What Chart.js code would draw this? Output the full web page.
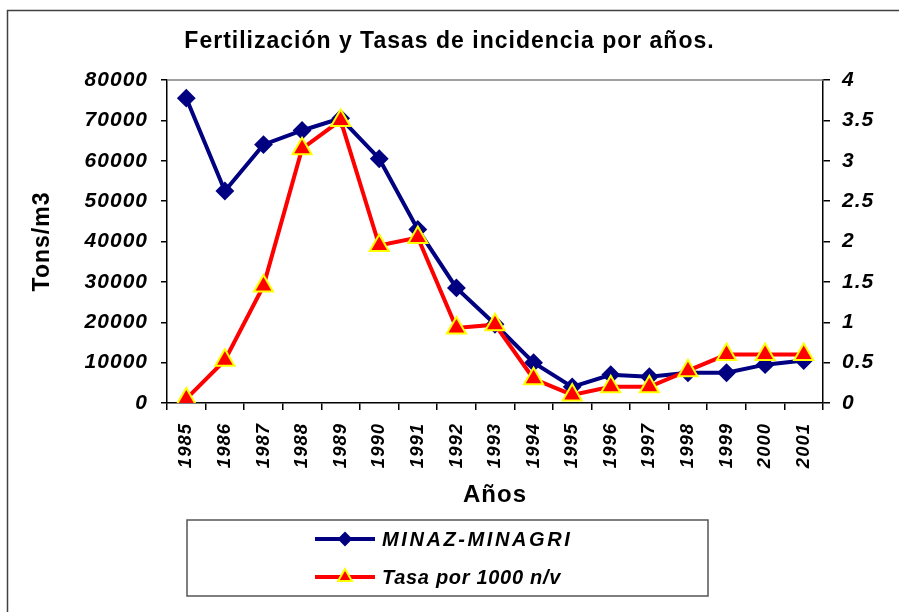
<!DOCTYPE html>
<html>
<head>
<meta charset="utf-8">
<script src="https://cdn.jsdelivr.net/npm/chart.js@4/dist/chart.umd.min.js"></script>
<style>
html,body{margin:0;padding:0;background:#fff;}
canvas{display:block;}
</style>
</head>
<body>
<canvas id="c" width="899" height="612"></canvas>
<script>
// ---- data ----
const years = ['1985','1986','1987','1988','1989','1990','1991','1992','1993','1994','1995','1996','1997','1998','1999','2000','2001'];
const minazMinagri = [75500, 52500, 64000, 67500, 70500, 60500, 43000, 28500, 19500, 10000, 4000, 7000, 6500, 7500, 7500, 9500, 10500];
const tasaPor1000 = [0.05, 0.53, 1.45, 3.15, 3.5, 1.95, 2.05, 0.93, 0.97, 0.3, 0.1, 0.2, 0.2, 0.4, 0.6, 0.6, 0.6];
const leftTicks = [0, 10000, 20000, 30000, 40000, 50000, 60000, 70000, 80000];
const rightTicks = [0, 0.5, 1, 1.5, 2, 2.5, 3, 3.5, 4];
const seriesNames = ['MINAZ-MINAGRI', 'Tasa por 1000 n/v'];
const chartTitle = 'Fertilización y Tasas de incidencia por años.';
const yTitle = 'Tons/m3';
const xTitle = 'Años';

// ---- styles ----
const FONT = "'Liberation Sans', Arial, sans-serif";
const BLUE = '#000080';
const RED = '#FF0000';
const YELLOW = '#FFFF00';
Chart.defaults.color = '#000';
Chart.defaults.font.family = FONT;

const spacingPlugin = {
  id: 'spacing',
  beforeUpdate(c) { c.ctx.letterSpacing = '1px'; },
  beforeDraw(c) { c.ctx.letterSpacing = '1px'; }
};

const framePlugin = {
  id: 'frame',
  beforeDraw(c) {
    const ctx = c.ctx;
    ctx.save();
    ctx.fillStyle = '#fff';
    ctx.fillRect(0, 0, c.width, c.height);
    ctx.strokeStyle = '#404040';
    ctx.lineWidth = 1.5;
    ctx.strokeRect(7.5, 10.5, 900, 640);
    ctx.restore();
  },
  beforeDatasetsDraw(c) {
    const ctx = c.ctx, a = c.chartArea;
    ctx.save();
    ctx.strokeStyle = '#808080';
    ctx.lineWidth = 1.5;
    ctx.beginPath();
    ctx.moveTo(a.left, a.top);
    ctx.lineTo(a.right, a.top);
    ctx.stroke();
    ctx.restore();
  }
};

function drawMarker(ctx, ds, x, y, radius) {
  ctx.save();
  ctx.fillStyle = ds.pointBackgroundColor;
  ctx.strokeStyle = ds.pointBorderColor;
  ctx.lineWidth = ds.pointBorderWidth;
  if (Chart.helpers && Chart.helpers.drawPoint) {
    Chart.helpers.drawPoint(ctx, {pointStyle: ds.pointStyle, radius: radius, borderWidth: ds.pointBorderWidth, rotation: 0}, x, y);
  } else {
    ctx.beginPath();
    if (ds.pointStyle === 'triangle') {
      ctx.moveTo(x, y - radius);
      ctx.lineTo(x + radius * 0.866, y + radius / 2);
      ctx.lineTo(x - radius * 0.866, y + radius / 2);
    } else {
      ctx.moveTo(x - radius, y); ctx.lineTo(x, y - radius);
      ctx.lineTo(x + radius, y); ctx.lineTo(x, y + radius);
    }
    ctx.closePath();
    ctx.fill(); ctx.stroke();
  }
  ctx.restore();
}

const boxLegendPlugin = {
  id: 'boxLegend',
  afterDraw(c) {
    const ctx = c.ctx;
    ctx.save();
    ctx.strokeStyle = '#555';
    ctx.lineWidth = 1.5;
    ctx.strokeRect(187, 520, 521, 76);
    const rows = [539, 577];
    const spacing = ['2.6px', '0.7px'];
    const order = [1, 0]; // dataset indices: blue first, red second
    order.forEach((di, r) => {
      const ds = c.data.datasets[di];
      const y = rows[r];
      ctx.strokeStyle = ds.borderColor;
      ctx.lineWidth = 4;
      ctx.beginPath();
      ctx.moveTo(315, y);
      ctx.lineTo(375, y);
      ctx.stroke();
      drawMarker(ctx, ds, 345, y, ds.pointStyle === 'triangle' ? 8 : 6);
      ctx.letterSpacing = spacing[r];
      ctx.fillStyle = '#000';
      ctx.font = 'italic bold 20px ' + FONT;
      ctx.textAlign = 'left';
      ctx.textBaseline = 'middle';
      ctx.fillText(ds.label, 382, y + 1);
    });
    ctx.restore();
  }
};

const chart = new Chart(document.getElementById('c'), {
  type: 'line',
  data: {
    labels: years,
    datasets: [
      {
        label: seriesNames[1],
        data: tasaPor1000,
        yAxisID: 'y2',
        borderColor: RED,
        borderWidth: 4,
        pointStyle: 'triangle',
        pointRadius: 11,
        pointBackgroundColor: RED,
        pointBorderColor: YELLOW,
        pointBorderWidth: 2,
        tension: 0,
        order: 1
      },
      {
        label: seriesNames[0],
        data: minazMinagri,
        yAxisID: 'y',
        borderColor: BLUE,
        borderWidth: 4,
        pointStyle: 'rectRot',
        pointRadius: 8,
        pointBackgroundColor: BLUE,
        pointBorderColor: BLUE,
        pointBorderWidth: 2,
        tension: 0,
        order: 2
      }
    ]
  },
  options: {
    responsive: false,
    animation: false,
    events: [],
    layout: { padding: 0 },
    plugins: {
      legend: { display: false },
      tooltip: { enabled: false },
      title: {
        display: true,
        text: chartTitle,
        color: '#000',
        font: { family: FONT, size: 23, weight: 'bold' },
        padding: { top: 28, bottom: 24.4 }
      }
    },
    scales: {
      x: {
        type: 'category',
        offset: true,
        grid: { offset: true, drawOnChartArea: false, drawTicks: true, tickLength: 7, color: '#000', lineWidth: 1.5 },
        border: { display: true, color: '#000', width: 1.5 },
        ticks: {
          autoSkip: false, minRotation: 90, maxRotation: 90, padding: 13,
          color: '#000',
          font: { family: FONT, size: 18.5, weight: 'bold', style: 'italic' }
        },
        title: {
          display: true, text: xTitle, color: '#000',
          font: { family: FONT, size: 24, weight: 'bold' },
          padding: { top: 0, bottom: 102.6 }
        },
        afterFit(s) { s.height = 209; }
      },
      y: {
        position: 'left',
        min: 0, max: 80000,
        afterBuildTicks(s) { s.ticks = leftTicks.map(v => ({value: v})); },
        grid: { drawOnChartArea: false, drawTicks: true, tickLength: 6, color: '#000', lineWidth: 1.5 },
        border: { display: true, color: '#000', width: 1.5 },
        ticks: {
          padding: 13, color: '#000',
          font: { family: FONT, size: 21, weight: 'bold', style: 'italic' },
          callback: v => String(v)
        },
        title: {
          display: true, text: yTitle, color: '#000',
          font: { family: FONT, size: 23, weight: 'bold' },
          padding: { top: 29, bottom: 0 }
        },
        afterFit(s) { s.width = 167; }
      },
      y2: {
        position: 'right',
        min: 0, max: 4,
        afterBuildTicks(s) { s.ticks = rightTicks.map(v => ({value: v})); },
        grid: { drawOnChartArea: false, drawTicks: true, tickLength: 7, color: '#000', lineWidth: 1.5 },
        border: { display: true, color: '#000', width: 1.5 },
        ticks: {
          padding: 12, color: '#000',
          font: { family: FONT, size: 21, weight: 'bold', style: 'italic' },
          callback: v => String(v)
        },
        afterFit(s) { s.width = 76; }
      }
    }
  },
  plugins: [spacingPlugin, framePlugin, boxLegendPlugin]
});
</script>
</body>
</html>
